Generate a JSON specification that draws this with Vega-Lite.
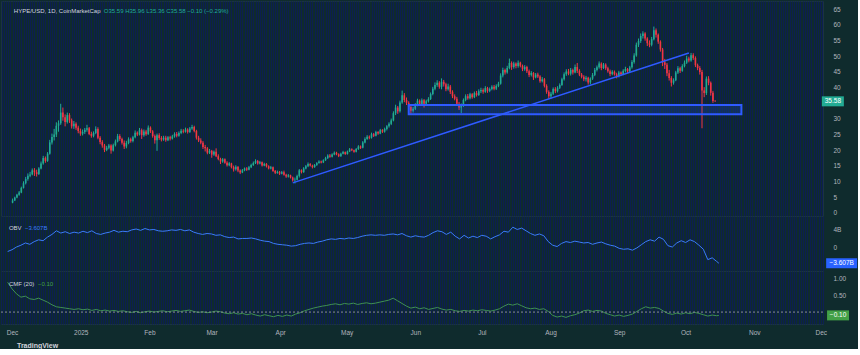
{
"$schema":"https://vega.github.io/schema/vega-lite/v6.json",
"background":"#0f2b2d",
"padding":0,
"spacing":0,
"bounds":"flush",
"title":{"text":"TradingView","orient":"bottom","anchor":"start","fontSize":7,"fontWeight":"bold","color":"#d1d4dc","dx":17,"offset":6,"font":"Liberation Sans"},
"config":{"view":{"stroke":"#1b3440","strokeWidth":1},"axis":{"labelColor":"#b2b5be","labelFont":"Liberation Sans","labelFontSize":6.5,"ticks":false,"domain":false,"grid":false,"labelOverlap":false}},
"datasets":{
"ohlc":[
{"d":"2024-11-29","o":3.3,"h":4.6,"l":3.1,"c":4.0},
{"d":"2024-11-30","o":4.0,"h":5.2,"l":3.8,"c":4.9},
{"d":"2024-12-01","o":4.9,"h":6.1,"l":4.7,"c":5.8},
{"d":"2024-12-02","o":5.8,"h":7.0,"l":5.5,"c":6.5},
{"d":"2024-12-03","o":6.5,"h":8.4,"l":6.3,"c":8.0},
{"d":"2024-12-04","o":8.0,"h":10.1,"l":7.8,"c":9.5},
{"d":"2024-12-05","o":9.5,"h":11.5,"l":9.1,"c":10.8},
{"d":"2024-12-06","o":10.8,"h":12.6,"l":10.3,"c":11.9},
{"d":"2024-12-07","o":11.9,"h":13.1,"l":11.4,"c":12.3},
{"d":"2024-12-08","o":12.3,"h":14.2,"l":12.0,"c":13.6},
{"d":"2024-12-09","o":13.6,"h":14.3,"l":11.8,"c":13.0},
{"d":"2024-12-10","o":13.0,"h":13.8,"l":11.6,"c":12.4},
{"d":"2024-12-11","o":12.4,"h":14.6,"l":12.1,"c":14.2},
{"d":"2024-12-12","o":14.2,"h":16.4,"l":13.9,"c":15.8},
{"d":"2024-12-13","o":15.8,"h":18.2,"l":15.4,"c":17.5},
{"d":"2024-12-14","o":17.5,"h":18.0,"l":16.0,"c":16.6},
{"d":"2024-12-15","o":16.6,"h":19.4,"l":16.3,"c":18.9},
{"d":"2024-12-16","o":18.9,"h":23.3,"l":18.6,"c":22.5},
{"d":"2024-12-17","o":22.5,"h":25.3,"l":21.8,"c":24.2},
{"d":"2024-12-18","o":24.2,"h":26.8,"l":23.1,"c":25.0},
{"d":"2024-12-19","o":25.0,"h":28.9,"l":24.2,"c":27.8},
{"d":"2024-12-20","o":27.8,"h":29.5,"l":25.9,"c":28.6},
{"d":"2024-12-21","o":28.6,"h":34.8,"l":28.1,"c":32.0},
{"d":"2024-12-22","o":32.0,"h":33.6,"l":29.4,"c":30.5},
{"d":"2024-12-23","o":30.5,"h":31.4,"l":27.6,"c":29.0},
{"d":"2024-12-24","o":29.0,"h":32.0,"l":28.5,"c":31.2},
{"d":"2024-12-25","o":31.2,"h":31.8,"l":28.7,"c":29.5},
{"d":"2024-12-26","o":29.5,"h":30.1,"l":26.9,"c":27.6},
{"d":"2024-12-27","o":27.6,"h":29.3,"l":26.8,"c":28.4},
{"d":"2024-12-28","o":28.4,"h":28.9,"l":26.5,"c":27.2},
{"d":"2024-12-29","o":27.2,"h":27.8,"l":25.4,"c":26.1},
{"d":"2024-12-30","o":26.1,"h":26.9,"l":24.6,"c":25.3},
{"d":"2024-12-31","o":25.3,"h":26.6,"l":24.7,"c":25.8},
{"d":"2025-01-01","o":25.8,"h":27.1,"l":25.2,"c":26.5},
{"d":"2025-01-02","o":26.5,"h":28.1,"l":25.9,"c":27.0},
{"d":"2025-01-03","o":27.0,"h":27.4,"l":24.8,"c":25.2},
{"d":"2025-01-04","o":25.2,"h":25.9,"l":24.0,"c":24.6},
{"d":"2025-01-05","o":24.6,"h":26.0,"l":24.1,"c":25.5},
{"d":"2025-01-06","o":25.5,"h":27.6,"l":25.1,"c":26.8},
{"d":"2025-01-07","o":26.8,"h":27.3,"l":23.5,"c":24.0},
{"d":"2025-01-08","o":24.0,"h":24.5,"l":21.9,"c":22.6},
{"d":"2025-01-09","o":22.6,"h":23.2,"l":20.8,"c":21.5},
{"d":"2025-01-10","o":21.5,"h":22.0,"l":19.4,"c":20.1},
{"d":"2025-01-11","o":20.1,"h":21.4,"l":19.7,"c":20.8},
{"d":"2025-01-12","o":20.8,"h":22.0,"l":20.3,"c":21.5},
{"d":"2025-01-13","o":21.5,"h":21.9,"l":18.9,"c":19.9},
{"d":"2025-01-14","o":19.9,"h":22.1,"l":19.6,"c":21.6},
{"d":"2025-01-15","o":21.6,"h":23.4,"l":21.2,"c":22.8},
{"d":"2025-01-16","o":22.8,"h":25.2,"l":22.5,"c":24.5},
{"d":"2025-01-17","o":24.5,"h":25.1,"l":23.0,"c":23.6},
{"d":"2025-01-18","o":23.6,"h":24.0,"l":21.8,"c":22.4},
{"d":"2025-01-19","o":22.4,"h":23.1,"l":20.4,"c":21.2},
{"d":"2025-01-20","o":21.2,"h":23.0,"l":20.6,"c":22.3},
{"d":"2025-01-21","o":22.3,"h":24.1,"l":21.9,"c":23.5},
{"d":"2025-01-22","o":23.5,"h":24.0,"l":22.4,"c":22.9},
{"d":"2025-01-23","o":22.9,"h":24.6,"l":22.5,"c":24.1},
{"d":"2025-01-24","o":24.1,"h":26.3,"l":23.8,"c":25.6},
{"d":"2025-01-25","o":25.6,"h":26.0,"l":24.5,"c":25.0},
{"d":"2025-01-26","o":25.0,"h":27.1,"l":24.7,"c":26.4},
{"d":"2025-01-27","o":26.4,"h":26.9,"l":23.6,"c":24.8},
{"d":"2025-01-28","o":24.8,"h":26.6,"l":24.3,"c":26.0},
{"d":"2025-01-29","o":26.0,"h":26.5,"l":24.6,"c":25.1},
{"d":"2025-01-30","o":25.1,"h":27.9,"l":24.9,"c":27.2},
{"d":"2025-01-31","o":27.2,"h":27.6,"l":25.5,"c":26.0},
{"d":"2025-02-01","o":26.0,"h":26.4,"l":24.0,"c":24.5},
{"d":"2025-02-02","o":24.5,"h":25.0,"l":22.1,"c":23.2},
{"d":"2025-02-03","o":23.2,"h":25.3,"l":19.8,"c":24.8},
{"d":"2025-02-04","o":24.8,"h":25.4,"l":23.3,"c":23.9},
{"d":"2025-02-05","o":23.9,"h":24.5,"l":22.8,"c":23.4},
{"d":"2025-02-06","o":23.4,"h":24.6,"l":23.0,"c":24.0},
{"d":"2025-02-07","o":24.0,"h":24.6,"l":22.7,"c":23.2},
{"d":"2025-02-08","o":23.2,"h":24.5,"l":22.9,"c":24.1},
{"d":"2025-02-09","o":24.1,"h":24.6,"l":23.1,"c":23.7},
{"d":"2025-02-10","o":23.7,"h":24.9,"l":23.4,"c":24.4},
{"d":"2025-02-11","o":24.4,"h":25.7,"l":24.0,"c":25.2},
{"d":"2025-02-12","o":25.2,"h":25.8,"l":24.1,"c":24.6},
{"d":"2025-02-13","o":24.6,"h":26.0,"l":24.3,"c":25.5},
{"d":"2025-02-14","o":25.5,"h":26.8,"l":25.1,"c":26.2},
{"d":"2025-02-15","o":26.2,"h":26.7,"l":25.4,"c":25.9},
{"d":"2025-02-16","o":25.9,"h":27.2,"l":25.6,"c":26.6},
{"d":"2025-02-17","o":26.6,"h":27.0,"l":25.3,"c":25.8},
{"d":"2025-02-18","o":25.8,"h":27.4,"l":25.5,"c":26.9},
{"d":"2025-02-19","o":26.9,"h":28.1,"l":26.5,"c":27.4},
{"d":"2025-02-20","o":27.4,"h":27.8,"l":25.7,"c":26.1},
{"d":"2025-02-21","o":26.1,"h":26.5,"l":23.4,"c":24.0},
{"d":"2025-02-22","o":24.0,"h":24.6,"l":22.6,"c":23.1},
{"d":"2025-02-23","o":23.1,"h":23.8,"l":21.9,"c":22.4},
{"d":"2025-02-24","o":22.4,"h":22.9,"l":20.4,"c":21.0},
{"d":"2025-02-25","o":21.0,"h":21.7,"l":19.6,"c":20.6},
{"d":"2025-02-26","o":20.6,"h":21.0,"l":18.7,"c":19.2},
{"d":"2025-02-27","o":19.2,"h":20.4,"l":18.8,"c":19.8},
{"d":"2025-02-28","o":19.8,"h":20.1,"l":17.6,"c":18.6},
{"d":"2025-03-01","o":18.6,"h":19.9,"l":18.2,"c":19.5},
{"d":"2025-03-02","o":19.5,"h":20.6,"l":17.8,"c":18.1},
{"d":"2025-03-03","o":18.1,"h":18.7,"l":16.8,"c":17.2},
{"d":"2025-03-04","o":17.2,"h":17.6,"l":15.6,"c":16.4},
{"d":"2025-03-05","o":16.4,"h":17.5,"l":16.0,"c":17.1},
{"d":"2025-03-06","o":17.1,"h":17.4,"l":15.7,"c":16.0},
{"d":"2025-03-07","o":16.0,"h":16.5,"l":14.8,"c":15.2},
{"d":"2025-03-08","o":15.2,"h":16.2,"l":14.9,"c":15.8},
{"d":"2025-03-09","o":15.8,"h":16.0,"l":14.2,"c":14.6},
{"d":"2025-03-10","o":14.6,"h":15.1,"l":13.2,"c":13.9},
{"d":"2025-03-11","o":13.9,"h":15.2,"l":13.5,"c":14.7},
{"d":"2025-03-12","o":14.7,"h":14.9,"l":13.0,"c":13.5},
{"d":"2025-03-13","o":13.5,"h":13.9,"l":12.4,"c":12.9},
{"d":"2025-03-14","o":12.9,"h":14.0,"l":12.7,"c":13.6},
{"d":"2025-03-15","o":13.6,"h":14.5,"l":13.3,"c":14.2},
{"d":"2025-03-16","o":14.2,"h":14.6,"l":13.4,"c":13.8},
{"d":"2025-03-17","o":13.8,"h":15.0,"l":13.6,"c":14.6},
{"d":"2025-03-18","o":14.6,"h":15.7,"l":14.3,"c":15.3},
{"d":"2025-03-19","o":15.3,"h":16.4,"l":15.0,"c":15.9},
{"d":"2025-03-20","o":15.9,"h":17.1,"l":15.6,"c":16.6},
{"d":"2025-03-21","o":16.6,"h":16.9,"l":15.4,"c":15.8},
{"d":"2025-03-22","o":15.8,"h":16.6,"l":15.5,"c":16.2},
{"d":"2025-03-23","o":16.2,"h":16.4,"l":14.8,"c":15.1},
{"d":"2025-03-24","o":15.1,"h":16.0,"l":14.9,"c":15.6},
{"d":"2025-03-25","o":15.6,"h":15.9,"l":14.5,"c":14.9},
{"d":"2025-03-26","o":14.9,"h":15.2,"l":13.9,"c":14.2},
{"d":"2025-03-27","o":14.2,"h":15.0,"l":13.9,"c":14.6},
{"d":"2025-03-28","o":14.6,"h":14.8,"l":13.1,"c":13.4},
{"d":"2025-03-29","o":13.4,"h":13.7,"l":12.4,"c":12.8},
{"d":"2025-03-30","o":12.8,"h":13.5,"l":12.5,"c":13.1},
{"d":"2025-03-31","o":13.1,"h":13.4,"l":12.1,"c":12.5},
{"d":"2025-04-01","o":12.5,"h":13.4,"l":12.3,"c":13.0},
{"d":"2025-04-02","o":13.0,"h":13.5,"l":11.9,"c":12.2},
{"d":"2025-04-03","o":12.2,"h":12.5,"l":11.2,"c":11.6},
{"d":"2025-04-04","o":11.6,"h":12.4,"l":11.3,"c":12.0},
{"d":"2025-04-05","o":12.0,"h":12.2,"l":11.0,"c":11.3},
{"d":"2025-04-06","o":11.3,"h":11.6,"l":10.0,"c":10.4},
{"d":"2025-04-07","o":10.4,"h":11.3,"l":9.4,"c":10.6},
{"d":"2025-04-08","o":10.6,"h":12.2,"l":10.4,"c":11.8},
{"d":"2025-04-09","o":11.8,"h":14.0,"l":11.3,"c":13.6},
{"d":"2025-04-10","o":13.6,"h":13.9,"l":12.6,"c":13.0},
{"d":"2025-04-11","o":13.0,"h":14.6,"l":12.8,"c":14.2},
{"d":"2025-04-12","o":14.2,"h":15.3,"l":13.9,"c":14.9},
{"d":"2025-04-13","o":14.9,"h":16.1,"l":14.6,"c":15.6},
{"d":"2025-04-14","o":15.6,"h":15.9,"l":14.8,"c":15.1},
{"d":"2025-04-15","o":15.1,"h":15.4,"l":14.2,"c":14.6},
{"d":"2025-04-16","o":14.6,"h":15.6,"l":14.4,"c":15.3},
{"d":"2025-04-17","o":15.3,"h":16.2,"l":15.0,"c":15.9},
{"d":"2025-04-18","o":15.9,"h":16.8,"l":15.7,"c":16.4},
{"d":"2025-04-19","o":16.4,"h":16.7,"l":15.8,"c":16.1},
{"d":"2025-04-20","o":16.1,"h":17.1,"l":15.9,"c":16.8},
{"d":"2025-04-21","o":16.8,"h":17.9,"l":16.6,"c":17.5},
{"d":"2025-04-22","o":17.5,"h":18.7,"l":17.2,"c":18.3},
{"d":"2025-04-23","o":18.3,"h":18.8,"l":17.6,"c":17.9},
{"d":"2025-04-24","o":17.9,"h":19.0,"l":17.7,"c":18.6},
{"d":"2025-04-25","o":18.6,"h":19.6,"l":18.4,"c":19.2},
{"d":"2025-04-26","o":19.2,"h":19.5,"l":18.4,"c":18.7},
{"d":"2025-04-27","o":18.7,"h":19.0,"l":17.8,"c":18.1},
{"d":"2025-04-28","o":18.1,"h":19.2,"l":17.9,"c":18.9},
{"d":"2025-04-29","o":18.9,"h":19.8,"l":18.7,"c":19.4},
{"d":"2025-04-30","o":19.4,"h":19.6,"l":18.5,"c":18.8},
{"d":"2025-05-01","o":18.8,"h":19.9,"l":18.6,"c":19.6},
{"d":"2025-05-02","o":19.6,"h":20.7,"l":19.4,"c":20.3},
{"d":"2025-05-03","o":20.3,"h":20.6,"l":19.7,"c":20.0},
{"d":"2025-05-04","o":20.0,"h":20.2,"l":19.2,"c":19.5},
{"d":"2025-05-05","o":19.5,"h":20.7,"l":19.3,"c":20.4},
{"d":"2025-05-06","o":20.4,"h":21.6,"l":20.1,"c":21.2},
{"d":"2025-05-07","o":21.2,"h":21.5,"l":20.4,"c":20.8},
{"d":"2025-05-08","o":20.8,"h":22.9,"l":20.6,"c":22.5},
{"d":"2025-05-09","o":22.5,"h":24.1,"l":22.2,"c":23.6},
{"d":"2025-05-10","o":23.6,"h":24.8,"l":23.3,"c":24.3},
{"d":"2025-05-11","o":24.3,"h":24.7,"l":23.5,"c":24.0},
{"d":"2025-05-12","o":24.0,"h":25.6,"l":23.7,"c":25.1},
{"d":"2025-05-13","o":25.1,"h":25.5,"l":24.2,"c":24.6},
{"d":"2025-05-14","o":24.6,"h":26.2,"l":24.4,"c":25.8},
{"d":"2025-05-15","o":25.8,"h":26.1,"l":24.9,"c":25.3},
{"d":"2025-05-16","o":25.3,"h":26.8,"l":25.1,"c":26.4},
{"d":"2025-05-17","o":26.4,"h":26.7,"l":25.5,"c":25.9},
{"d":"2025-05-18","o":25.9,"h":27.2,"l":25.6,"c":26.8},
{"d":"2025-05-19","o":26.8,"h":28.0,"l":26.3,"c":27.6},
{"d":"2025-05-20","o":27.6,"h":28.9,"l":27.2,"c":28.4},
{"d":"2025-05-21","o":28.4,"h":30.1,"l":28.0,"c":29.5},
{"d":"2025-05-22","o":29.5,"h":32.4,"l":29.2,"c":31.8},
{"d":"2025-05-23","o":31.8,"h":34.5,"l":31.2,"c":33.6},
{"d":"2025-05-24","o":33.6,"h":34.1,"l":31.6,"c":32.4},
{"d":"2025-05-25","o":32.4,"h":35.8,"l":32.0,"c":35.2},
{"d":"2025-05-26","o":35.2,"h":39.0,"l":34.8,"c":37.5},
{"d":"2025-05-27","o":37.5,"h":38.2,"l":35.3,"c":36.0},
{"d":"2025-05-28","o":36.0,"h":36.8,"l":34.4,"c":35.1},
{"d":"2025-05-29","o":35.1,"h":35.6,"l":33.0,"c":33.8},
{"d":"2025-05-30","o":33.8,"h":34.2,"l":31.6,"c":32.6},
{"d":"2025-05-31","o":32.6,"h":33.8,"l":32.0,"c":33.2},
{"d":"2025-06-01","o":33.2,"h":35.0,"l":32.8,"c":34.5},
{"d":"2025-06-02","o":34.5,"h":36.4,"l":34.0,"c":35.8},
{"d":"2025-06-03","o":35.8,"h":36.2,"l":34.1,"c":34.6},
{"d":"2025-06-04","o":34.6,"h":36.5,"l":34.2,"c":35.9},
{"d":"2025-06-05","o":35.9,"h":36.3,"l":33.6,"c":34.8},
{"d":"2025-06-06","o":34.8,"h":36.1,"l":34.3,"c":35.6},
{"d":"2025-06-07","o":35.6,"h":36.9,"l":35.2,"c":36.3},
{"d":"2025-06-08","o":36.3,"h":38.4,"l":36.0,"c":37.9},
{"d":"2025-06-09","o":37.9,"h":40.2,"l":37.5,"c":39.6},
{"d":"2025-06-10","o":39.6,"h":41.6,"l":39.1,"c":40.8},
{"d":"2025-06-11","o":40.8,"h":42.3,"l":40.2,"c":41.5},
{"d":"2025-06-12","o":41.5,"h":42.0,"l":39.6,"c":40.2},
{"d":"2025-06-13","o":40.2,"h":42.9,"l":39.4,"c":41.8},
{"d":"2025-06-14","o":41.8,"h":42.4,"l":40.3,"c":41.0},
{"d":"2025-06-15","o":41.0,"h":41.5,"l":38.8,"c":39.4},
{"d":"2025-06-16","o":39.4,"h":41.2,"l":39.0,"c":40.3},
{"d":"2025-06-17","o":40.3,"h":40.8,"l":37.9,"c":38.6},
{"d":"2025-06-18","o":38.6,"h":39.1,"l":36.6,"c":37.2},
{"d":"2025-06-19","o":37.2,"h":37.8,"l":35.9,"c":36.4},
{"d":"2025-06-20","o":36.4,"h":37.0,"l":34.2,"c":34.8},
{"d":"2025-06-21","o":34.8,"h":35.4,"l":32.8,"c":33.6},
{"d":"2025-06-22","o":33.6,"h":34.9,"l":31.8,"c":34.2},
{"d":"2025-06-23","o":34.2,"h":36.5,"l":33.8,"c":36.0},
{"d":"2025-06-24","o":36.0,"h":37.8,"l":35.6,"c":37.2},
{"d":"2025-06-25","o":37.2,"h":37.9,"l":36.1,"c":36.6},
{"d":"2025-06-26","o":36.6,"h":38.3,"l":36.2,"c":37.8},
{"d":"2025-06-27","o":37.8,"h":38.2,"l":36.4,"c":36.9},
{"d":"2025-06-28","o":36.9,"h":38.7,"l":36.6,"c":38.2},
{"d":"2025-06-29","o":38.2,"h":38.9,"l":37.1,"c":37.6},
{"d":"2025-06-30","o":37.6,"h":39.4,"l":37.3,"c":38.8},
{"d":"2025-07-01","o":38.8,"h":39.9,"l":38.2,"c":39.2},
{"d":"2025-07-02","o":39.2,"h":39.7,"l":38.0,"c":38.6},
{"d":"2025-07-03","o":38.6,"h":40.4,"l":38.3,"c":39.8},
{"d":"2025-07-04","o":39.8,"h":40.2,"l":38.3,"c":38.9},
{"d":"2025-07-05","o":38.9,"h":40.0,"l":38.5,"c":39.5},
{"d":"2025-07-06","o":39.5,"h":40.7,"l":39.1,"c":40.2},
{"d":"2025-07-07","o":40.2,"h":40.8,"l":39.1,"c":39.6},
{"d":"2025-07-08","o":39.6,"h":41.0,"l":39.2,"c":40.5},
{"d":"2025-07-09","o":40.5,"h":41.8,"l":40.1,"c":41.2},
{"d":"2025-07-10","o":41.2,"h":44.5,"l":40.9,"c":43.8},
{"d":"2025-07-11","o":43.8,"h":46.3,"l":43.2,"c":45.6},
{"d":"2025-07-12","o":45.6,"h":46.0,"l":44.1,"c":44.8},
{"d":"2025-07-13","o":44.8,"h":46.9,"l":44.4,"c":46.2},
{"d":"2025-07-14","o":46.2,"h":49.2,"l":45.8,"c":47.8},
{"d":"2025-07-15","o":47.8,"h":48.3,"l":45.6,"c":46.5},
{"d":"2025-07-16","o":46.5,"h":48.2,"l":46.0,"c":47.6},
{"d":"2025-07-17","o":47.6,"h":48.0,"l":46.1,"c":46.8},
{"d":"2025-07-18","o":46.8,"h":48.6,"l":46.3,"c":47.9},
{"d":"2025-07-19","o":47.9,"h":48.2,"l":46.4,"c":46.9},
{"d":"2025-07-20","o":46.9,"h":47.3,"l":45.2,"c":45.8},
{"d":"2025-07-21","o":45.8,"h":47.1,"l":45.3,"c":46.5},
{"d":"2025-07-22","o":46.5,"h":46.9,"l":44.6,"c":45.2},
{"d":"2025-07-23","o":45.2,"h":45.7,"l":43.3,"c":44.0},
{"d":"2025-07-24","o":44.0,"h":45.2,"l":43.5,"c":44.6},
{"d":"2025-07-25","o":44.6,"h":44.9,"l":42.4,"c":43.2},
{"d":"2025-07-26","o":43.2,"h":44.6,"l":42.9,"c":44.1},
{"d":"2025-07-27","o":44.1,"h":44.7,"l":43.0,"c":43.5},
{"d":"2025-07-28","o":43.5,"h":43.9,"l":41.5,"c":42.0},
{"d":"2025-07-29","o":42.0,"h":43.3,"l":41.6,"c":42.6},
{"d":"2025-07-30","o":42.6,"h":43.0,"l":40.0,"c":40.5},
{"d":"2025-07-31","o":40.5,"h":41.0,"l":38.0,"c":38.6},
{"d":"2025-08-01","o":38.6,"h":39.1,"l":36.4,"c":37.2},
{"d":"2025-08-02","o":37.2,"h":38.6,"l":36.5,"c":38.0},
{"d":"2025-08-03","o":38.0,"h":40.0,"l":37.6,"c":39.5},
{"d":"2025-08-04","o":39.5,"h":40.1,"l":38.2,"c":38.8},
{"d":"2025-08-05","o":38.8,"h":40.4,"l":38.4,"c":39.9},
{"d":"2025-08-06","o":39.9,"h":41.3,"l":39.5,"c":40.8},
{"d":"2025-08-07","o":40.8,"h":43.1,"l":40.5,"c":42.6},
{"d":"2025-08-08","o":42.6,"h":44.8,"l":42.2,"c":44.2},
{"d":"2025-08-09","o":44.2,"h":45.8,"l":43.7,"c":45.1},
{"d":"2025-08-10","o":45.1,"h":45.9,"l":43.9,"c":44.4},
{"d":"2025-08-11","o":44.4,"h":46.2,"l":43.8,"c":45.6},
{"d":"2025-08-12","o":45.6,"h":46.0,"l":44.1,"c":44.8},
{"d":"2025-08-13","o":44.8,"h":47.3,"l":44.5,"c":46.5},
{"d":"2025-08-14","o":46.5,"h":47.8,"l":44.6,"c":45.3},
{"d":"2025-08-15","o":45.3,"h":45.8,"l":43.6,"c":44.1},
{"d":"2025-08-16","o":44.1,"h":44.6,"l":42.9,"c":43.4},
{"d":"2025-08-17","o":43.4,"h":43.9,"l":42.0,"c":42.6},
{"d":"2025-08-18","o":42.6,"h":43.7,"l":41.9,"c":43.1},
{"d":"2025-08-19","o":43.1,"h":43.4,"l":40.9,"c":41.6},
{"d":"2025-08-20","o":41.6,"h":43.2,"l":41.0,"c":42.8},
{"d":"2025-08-21","o":42.8,"h":44.6,"l":42.4,"c":44.0},
{"d":"2025-08-22","o":44.0,"h":46.2,"l":43.6,"c":45.6},
{"d":"2025-08-23","o":45.6,"h":47.0,"l":45.1,"c":46.4},
{"d":"2025-08-24","o":46.4,"h":48.3,"l":46.0,"c":47.6},
{"d":"2025-08-25","o":47.6,"h":48.0,"l":45.5,"c":46.2},
{"d":"2025-08-26","o":46.2,"h":47.8,"l":45.9,"c":47.3},
{"d":"2025-08-27","o":47.3,"h":47.7,"l":45.6,"c":46.1},
{"d":"2025-08-28","o":46.1,"h":46.6,"l":44.7,"c":45.2},
{"d":"2025-08-29","o":45.2,"h":45.7,"l":43.6,"c":44.3},
{"d":"2025-08-30","o":44.3,"h":45.5,"l":43.9,"c":45.0},
{"d":"2025-08-31","o":45.0,"h":45.4,"l":43.8,"c":44.2},
{"d":"2025-09-01","o":44.2,"h":44.7,"l":42.9,"c":43.6},
{"d":"2025-09-02","o":43.6,"h":45.3,"l":43.2,"c":44.8},
{"d":"2025-09-03","o":44.8,"h":45.1,"l":43.7,"c":44.2},
{"d":"2025-09-04","o":44.2,"h":45.8,"l":43.9,"c":45.3},
{"d":"2025-09-05","o":45.3,"h":46.6,"l":44.8,"c":45.9},
{"d":"2025-09-06","o":45.9,"h":46.2,"l":44.6,"c":45.1},
{"d":"2025-09-07","o":45.1,"h":46.9,"l":44.9,"c":46.4},
{"d":"2025-09-08","o":46.4,"h":48.7,"l":46.0,"c":48.1},
{"d":"2025-09-09","o":48.1,"h":50.9,"l":47.6,"c":50.2},
{"d":"2025-09-10","o":50.2,"h":54.3,"l":49.8,"c":53.6},
{"d":"2025-09-11","o":53.6,"h":55.6,"l":52.9,"c":54.8},
{"d":"2025-09-12","o":54.8,"h":57.2,"l":54.2,"c":56.4},
{"d":"2025-09-13","o":56.4,"h":57.9,"l":55.6,"c":57.2},
{"d":"2025-09-14","o":57.2,"h":57.6,"l":54.9,"c":55.6},
{"d":"2025-09-15","o":55.6,"h":56.0,"l":53.2,"c":54.1},
{"d":"2025-09-16","o":54.1,"h":55.0,"l":52.8,"c":53.6},
{"d":"2025-09-17","o":53.6,"h":56.1,"l":53.1,"c":55.4},
{"d":"2025-09-18","o":55.4,"h":59.4,"l":55.0,"c":58.2},
{"d":"2025-09-19","o":58.2,"h":58.8,"l":55.9,"c":56.8},
{"d":"2025-09-20","o":56.8,"h":57.2,"l":53.9,"c":54.6},
{"d":"2025-09-21","o":54.6,"h":55.0,"l":51.4,"c":52.1},
{"d":"2025-09-22","o":52.1,"h":52.6,"l":46.8,"c":48.0},
{"d":"2025-09-23","o":48.0,"h":49.1,"l":45.9,"c":47.2},
{"d":"2025-09-24","o":47.2,"h":47.8,"l":43.6,"c":44.5},
{"d":"2025-09-25","o":44.5,"h":45.6,"l":42.2,"c":43.0},
{"d":"2025-09-26","o":43.0,"h":43.6,"l":40.3,"c":41.5},
{"d":"2025-09-27","o":41.5,"h":42.9,"l":40.9,"c":42.3},
{"d":"2025-09-28","o":42.3,"h":45.3,"l":42.0,"c":44.8},
{"d":"2025-09-29","o":44.8,"h":46.8,"l":44.3,"c":46.1},
{"d":"2025-09-30","o":46.1,"h":46.6,"l":44.6,"c":45.3},
{"d":"2025-10-01","o":45.3,"h":47.4,"l":45.0,"c":46.8},
{"d":"2025-10-02","o":46.8,"h":48.6,"l":46.4,"c":47.9},
{"d":"2025-10-03","o":47.9,"h":50.1,"l":47.5,"c":49.2},
{"d":"2025-10-04","o":49.2,"h":49.8,"l":48.0,"c":48.6},
{"d":"2025-10-05","o":48.6,"h":51.0,"l":48.2,"c":50.3},
{"d":"2025-10-06","o":50.3,"h":50.9,"l":48.8,"c":49.4},
{"d":"2025-10-07","o":49.4,"h":49.9,"l":46.5,"c":47.1},
{"d":"2025-10-08","o":47.1,"h":47.6,"l":45.5,"c":46.2},
{"d":"2025-10-09","o":46.2,"h":46.8,"l":44.1,"c":44.9},
{"d":"2025-10-10","o":44.9,"h":45.6,"l":27.0,"c":39.0},
{"d":"2025-10-11","o":39.0,"h":40.1,"l":36.9,"c":38.2},
{"d":"2025-10-12","o":38.2,"h":43.5,"l":37.6,"c":42.8},
{"d":"2025-10-13","o":42.8,"h":43.6,"l":40.7,"c":41.5},
{"d":"2025-10-14","o":41.5,"h":41.9,"l":37.4,"c":38.3},
{"d":"2025-10-15","o":38.3,"h":38.9,"l":35.1,"c":35.68},
{"d":"2025-10-16","o":35.59,"h":35.96,"l":35.36,"c":35.58}
],
"ind":[
{"d":"2024-11-29","v":-1.0,"m":0.90},{"d":"2024-12-01","v":-0.6,"m":0.70},{"d":"2024-12-03","v":0.0,"m":0.55},{"d":"2024-12-05","v":0.4,"m":0.45},{"d":"2024-12-07","v":0.9,"m":0.48},{"d":"2024-12-09","v":0.6,"m":0.40},{"d":"2024-12-11","v":1.2,"m":0.38},{"d":"2024-12-13","v":1.6,"m":0.42},{"d":"2024-12-15","v":1.4,"m":0.36},{"d":"2024-12-17","v":2.2,"m":0.30},{"d":"2024-12-19","v":2.8,"m":0.22},{"d":"2024-12-21","v":3.6,"m":0.16},{"d":"2024-12-23","v":3.1,"m":0.14},{"d":"2024-12-25","v":3.4,"m":0.12},{"d":"2024-12-27","v":3.0,"m":0.10},{"d":"2024-12-29","v":3.3,"m":0.08},{"d":"2024-12-31","v":3.1,"m":0.10},
{"d":"2025-01-02","v":3.5,"m":0.07},{"d":"2025-01-04","v":3.2,"m":0.09},{"d":"2025-01-06","v":3.6,"m":0.05},{"d":"2025-01-08","v":3.0,"m":0.08},{"d":"2025-01-10","v":2.8,"m":0.04},{"d":"2025-01-12","v":3.1,"m":0.06},{"d":"2025-01-14","v":3.3,"m":0.03},{"d":"2025-01-16","v":3.7,"m":0.05},{"d":"2025-01-18","v":3.3,"m":0.02},{"d":"2025-01-20","v":3.5,"m":0.04},{"d":"2025-01-22","v":3.4,"m":0.01},{"d":"2025-01-24","v":3.8,"m":-0.01},{"d":"2025-01-26","v":4.0,"m":0.02},{"d":"2025-01-28","v":3.7,"m":-0.02},{"d":"2025-01-30","v":4.1,"m":0.01},
{"d":"2025-02-01","v":3.8,"m":0.03},{"d":"2025-02-03","v":3.9,"m":0.00},{"d":"2025-02-05","v":3.6,"m":0.02},{"d":"2025-02-07","v":3.5,"m":0.04},{"d":"2025-02-09","v":3.6,"m":0.01},{"d":"2025-02-11","v":3.8,"m":0.03},{"d":"2025-02-13","v":3.7,"m":0.05},{"d":"2025-02-15","v":3.9,"m":0.02},{"d":"2025-02-17","v":3.6,"m":0.04},{"d":"2025-02-19","v":3.8,"m":0.06},{"d":"2025-02-21","v":3.3,"m":0.02},{"d":"2025-02-23","v":3.0,"m":-0.01},{"d":"2025-02-25","v":2.8,"m":0.01},{"d":"2025-02-27","v":3.0,"m":-0.02},
{"d":"2025-03-01","v":2.9,"m":0.00},{"d":"2025-03-03","v":2.6,"m":0.03},{"d":"2025-03-05","v":2.7,"m":0.01},{"d":"2025-03-07","v":2.3,"m":-0.03},{"d":"2025-03-09","v":2.1,"m":-0.05},{"d":"2025-03-11","v":2.2,"m":-0.02},{"d":"2025-03-13","v":1.8,"m":-0.06},{"d":"2025-03-15","v":1.9,"m":-0.04},{"d":"2025-03-17","v":1.9,"m":-0.08},{"d":"2025-03-19","v":2.0,"m":-0.05},{"d":"2025-03-21","v":1.8,"m":-0.09},{"d":"2025-03-23","v":1.5,"m":-0.12},{"d":"2025-03-25","v":1.3,"m":-0.08},{"d":"2025-03-27","v":1.2,"m":-0.11},{"d":"2025-03-29","v":0.8,"m":-0.14},{"d":"2025-03-31","v":0.6,"m":-0.10},
{"d":"2025-04-02","v":0.5,"m":-0.13},{"d":"2025-04-04","v":0.4,"m":-0.09},{"d":"2025-04-06","v":0.2,"m":-0.12},{"d":"2025-04-08","v":0.3,"m":-0.06},{"d":"2025-04-10","v":0.6,"m":-0.02},{"d":"2025-04-12","v":0.8,"m":0.04},{"d":"2025-04-14","v":0.9,"m":0.08},{"d":"2025-04-16","v":0.8,"m":0.12},{"d":"2025-04-18","v":1.1,"m":0.15},{"d":"2025-04-20","v":1.3,"m":0.18},{"d":"2025-04-22","v":1.6,"m":0.20},{"d":"2025-04-24","v":1.8,"m":0.23},{"d":"2025-04-26","v":1.7,"m":0.25},{"d":"2025-04-28","v":1.9,"m":0.22},{"d":"2025-04-30","v":1.8,"m":0.26},
{"d":"2025-05-02","v":2.0,"m":0.24},{"d":"2025-05-04","v":1.9,"m":0.27},{"d":"2025-05-06","v":2.1,"m":0.23},{"d":"2025-05-08","v":2.4,"m":0.26},{"d":"2025-05-10","v":2.6,"m":0.28},{"d":"2025-05-12","v":2.7,"m":0.25},{"d":"2025-05-14","v":2.6,"m":0.27},{"d":"2025-05-16","v":2.7,"m":0.30},{"d":"2025-05-18","v":2.6,"m":0.33},{"d":"2025-05-20","v":2.8,"m":0.36},{"d":"2025-05-22","v":2.9,"m":0.42},{"d":"2025-05-24","v":2.7,"m":0.34},{"d":"2025-05-26","v":3.0,"m":0.26},{"d":"2025-05-28","v":2.5,"m":0.18},{"d":"2025-05-30","v":2.2,"m":0.12},
{"d":"2025-06-01","v":2.5,"m":0.15},{"d":"2025-06-03","v":2.3,"m":0.10},{"d":"2025-06-05","v":2.2,"m":0.13},{"d":"2025-06-07","v":2.6,"m":0.08},{"d":"2025-06-09","v":3.2,"m":0.11},{"d":"2025-06-11","v":3.6,"m":0.14},{"d":"2025-06-13","v":3.4,"m":0.09},{"d":"2025-06-15","v":2.8,"m":0.06},{"d":"2025-06-17","v":3.3,"m":0.08},{"d":"2025-06-19","v":2.4,"m":0.04},{"d":"2025-06-21","v":1.8,"m":0.02},{"d":"2025-06-23","v":2.6,"m":0.05},{"d":"2025-06-25","v":2.0,"m":0.03},{"d":"2025-06-27","v":2.4,"m":0.06},{"d":"2025-06-29","v":2.1,"m":0.04},
{"d":"2025-07-01","v":2.6,"m":0.07},{"d":"2025-07-03","v":2.4,"m":0.05},{"d":"2025-07-05","v":1.8,"m":0.03},{"d":"2025-07-07","v":2.3,"m":0.06},{"d":"2025-07-09","v":2.7,"m":0.10},{"d":"2025-07-11","v":3.5,"m":0.18},{"d":"2025-07-13","v":3.3,"m":0.24},{"d":"2025-07-15","v":4.4,"m":0.21},{"d":"2025-07-17","v":3.9,"m":0.25},{"d":"2025-07-19","v":4.2,"m":0.19},{"d":"2025-07-21","v":3.6,"m":0.13},{"d":"2025-07-23","v":3.0,"m":0.10},{"d":"2025-07-25","v":2.6,"m":0.12},{"d":"2025-07-27","v":2.9,"m":0.08},{"d":"2025-07-29","v":2.5,"m":0.10},{"d":"2025-07-31","v":1.2,"m":0.02},
{"d":"2025-08-02","v":0.4,"m":-0.10},{"d":"2025-08-04","v":0.1,"m":-0.15},{"d":"2025-08-06","v":0.8,"m":-0.12},{"d":"2025-08-08","v":1.2,"m":-0.16},{"d":"2025-08-10","v":1.0,"m":-0.11},{"d":"2025-08-12","v":1.3,"m":-0.08},{"d":"2025-08-14","v":1.1,"m":-0.03},{"d":"2025-08-16","v":0.9,"m":0.04},{"d":"2025-08-18","v":1.0,"m":0.06},{"d":"2025-08-20","v":0.6,"m":0.02},{"d":"2025-08-22","v":0.9,"m":0.05},{"d":"2025-08-24","v":1.1,"m":0.03},{"d":"2025-08-26","v":0.7,"m":-0.04},{"d":"2025-08-28","v":0.4,"m":-0.08},{"d":"2025-08-30","v":0.2,"m":-0.12},
{"d":"2025-09-01","v":-0.3,"m":-0.09},{"d":"2025-09-03","v":-0.5,"m":-0.13},{"d":"2025-09-05","v":-0.4,"m":-0.10},{"d":"2025-09-07","v":-0.7,"m":-0.06},{"d":"2025-09-09","v":-0.2,"m":0.02},{"d":"2025-09-11","v":0.5,"m":0.10},{"d":"2025-09-13","v":1.2,"m":0.16},{"d":"2025-09-15","v":1.6,"m":0.12},{"d":"2025-09-17","v":1.3,"m":0.14},{"d":"2025-09-19","v":2.2,"m":0.11},{"d":"2025-09-21","v":1.7,"m":0.03},{"d":"2025-09-23","v":0.3,"m":-0.04},{"d":"2025-09-25","v":0.0,"m":-0.07},{"d":"2025-09-27","v":0.9,"m":-0.03},{"d":"2025-09-29","v":1.4,"m":-0.06},
{"d":"2025-10-01","v":1.0,"m":-0.02},{"d":"2025-10-03","v":1.6,"m":-0.05},{"d":"2025-10-05","v":1.2,"m":-0.01},{"d":"2025-10-07","v":0.4,"m":-0.04},{"d":"2025-10-09","v":-0.5,"m":-0.08},{"d":"2025-10-11","v":-2.8,"m":-0.12},{"d":"2025-10-13","v":-2.4,"m":-0.09},{"d":"2025-10-15","v":-3.2,"m":-0.11},{"d":"2025-10-16","v":-3.607,"m":-0.10}
],
"trend":[{"d":"2025-04-06","p":9.6},{"d":"2025-10-04","p":51.0}],
"zone":[{"d":"2025-05-29","d2":"2025-10-28","lo":31.5,"hi":34.4}],
"lastp":[{"p":35.58,"t":"35.58"}],
"lastv":[{"v":-3.607,"t":"−3.607B"}],
"lastm":[{"m":-0.10,"t":"−0.10"}]
},
"vconcat":[
{
"width":822,"height":215,
"layer":[
{"data":{"name":"ohlc"},"mark":{"type":"rule","strokeWidth":1},
 "encoding":{
  "x":{"field":"d","type":"temporal","title":null,"scale":{"type":"utc","domain":[{"year":2024,"month":11,"date":26,"utc":true},{"year":2025,"month":12,"date":2,"utc":true}]},
       "axis":{"orient":"bottom","labels":false,"grid":true,"gridColor":"#0c1c58","gridOpacity":0.85,"tickCount":{"interval":"day","step":1}}},
  "y":{"field":"l","type":"quantitative","title":null,"scale":{"domain":[-0.96,67.55],"nice":false,"zero":false},
       "axis":{"orient":"right","values":[0,5,10,15,20,25,30,40,45,50,55,60,65],"labelPadding":10,"labelAlign":"left","labelOverlap":false,"tickCount":14}},
  "y2":{"field":"h"},
  "color":{"condition":{"test":"datum.c >= datum.o","value":"#22ab94"},"value":"#f23645"}}},
{"data":{"name":"ohlc"},"mark":{"type":"bar","size":1.6},
 "encoding":{
  "x":{"field":"d","type":"temporal","title":null,"scale":{"type":"utc"},
       "axis":{"orient":"bottom","labels":false,"grid":true,"gridColor":"#0c1c58","gridOpacity":0.85,"tickCount":{"interval":"day","step":1}}},
  "y":{"field":"o","type":"quantitative","title":null,
       "axis":{"orient":"right","values":[0,5,10,15,20,25,30,40,45,50,55,60,65],"labelPadding":10,"labelAlign":"left","labelOverlap":false,"tickCount":14}},
  "y2":{"field":"c"},
  "color":{"condition":{"test":"datum.c >= datum.o","value":"#22ab94"},"value":"#f23645"}}},
{"data":{"name":"zone"},"mark":{"type":"rect","fill":"#2962ff","fillOpacity":0.18,"stroke":"#2f5bff","strokeWidth":2},
 "encoding":{
  "x":{"field":"d","type":"temporal","title":null,"scale":{"type":"utc"},
       "axis":{"orient":"bottom","labels":false,"grid":true,"gridColor":"#0c1c58","gridOpacity":0.85,"tickCount":{"interval":"day","step":1}}},
  "x2":{"field":"d2"},
  "y":{"field":"lo","type":"quantitative","title":null,
       "axis":{"orient":"right","values":[0,5,10,15,20,25,30,40,45,50,55,60,65],"labelPadding":10,"labelAlign":"left","labelOverlap":false,"tickCount":14}},
  "y2":{"field":"hi"}}},
{"data":{"name":"trend"},"mark":{"type":"line","color":"#2f5bff","strokeWidth":1.5},
 "encoding":{
  "x":{"field":"d","type":"temporal","title":null,"scale":{"type":"utc"},
       "axis":{"orient":"bottom","labels":false,"grid":true,"gridColor":"#0c1c58","gridOpacity":0.85,"tickCount":{"interval":"day","step":1}}},
  "y":{"field":"p","type":"quantitative","title":null,
       "axis":{"orient":"right","values":[0,5,10,15,20,25,30,40,45,50,55,60,65],"labelPadding":10,"labelAlign":"left","labelOverlap":false,"tickCount":14}}}},
{"data":{"name":"lastp"},"mark":{"type":"tick","orient":"horizontal","size":22,"thickness":10,"color":"#22ab94","opacity":1},
 "encoding":{
  "x":{"datum":{"year":2025,"month":12,"date":8,"hours":19,"utc":true},"type":"temporal","scale":{"type":"utc"},
       "axis":{"orient":"bottom","labels":false,"grid":true,"gridColor":"#0c1c58","gridOpacity":0.85,"tickCount":{"interval":"day","step":1}}},
  "y":{"field":"p","type":"quantitative","title":null,
       "axis":{"orient":"right","values":[0,5,10,15,20,25,30,40,45,50,55,60,65],"labelPadding":10,"labelAlign":"left","labelOverlap":false,"tickCount":14}}}},
{"data":{"name":"lastp"},"mark":{"type":"text","color":"#ffffff","fontSize":6.5,"font":"Liberation Sans","align":"center","baseline":"middle"},
 "encoding":{
  "x":{"datum":{"year":2025,"month":12,"date":8,"hours":19,"utc":true},"type":"temporal","scale":{"type":"utc"},
       "axis":{"orient":"bottom","labels":false,"grid":true,"gridColor":"#0c1c58","gridOpacity":0.85,"tickCount":{"interval":"day","step":1}}},
  "y":{"field":"p","type":"quantitative","title":null,
       "axis":{"orient":"right","values":[0,5,10,15,20,25,30,40,45,50,55,60,65],"labelPadding":10,"labelAlign":"left","labelOverlap":false,"tickCount":14}},
  "text":{"field":"t"}}},
{"data":{"values":[{}]},"mark":{"type":"text","color":"#d1d4dc","fontSize":6,"font":"Liberation Sans","align":"left","baseline":"middle"},
 "encoding":{
  "x":{"datum":{"year":2024,"month":11,"date":29,"hours":14,"utc":true},"type":"temporal","scale":{"type":"utc"},
       "axis":{"orient":"bottom","labels":false,"grid":true,"gridColor":"#0c1c58","gridOpacity":0.85,"tickCount":{"interval":"day","step":1}}},
  "y":{"datum":64.36,"type":"quantitative",
       "axis":{"orient":"right","values":[0,5,10,15,20,25,30,40,45,50,55,60,65],"labelPadding":10,"labelAlign":"left","labelOverlap":false,"tickCount":14}},
  "text":{"value":"HYPE/USD, 1D, CoinMarketCap"}}},
{"data":{"values":[{}]},"mark":{"type":"text","color":"#22ab94","fontSize":6,"font":"Liberation Sans","align":"left","baseline":"middle","dx":90},
 "encoding":{
  "x":{"datum":{"year":2024,"month":11,"date":29,"hours":14,"utc":true},"type":"temporal","scale":{"type":"utc"},
       "axis":{"orient":"bottom","labels":false,"grid":true,"gridColor":"#0c1c58","gridOpacity":0.85,"tickCount":{"interval":"day","step":1}}},
  "y":{"datum":64.36,"type":"quantitative",
       "axis":{"orient":"right","values":[0,5,10,15,20,25,30,40,45,50,55,60,65],"labelPadding":10,"labelAlign":"left","labelOverlap":false,"tickCount":14}},
  "text":{"value":"O35.59 H35.96 L35.36 C35.58 −0.10 (−0.29%)"}}}
]
},
{
"width":822,"height":55,
"layer":[
{"data":{"name":"ind"},"mark":{"type":"line","color":"#3b7cf6","strokeWidth":1},
 "encoding":{
  "x":{"field":"d","type":"temporal","title":null,"scale":{"type":"utc","domain":[{"year":2024,"month":11,"date":26,"utc":true},{"year":2025,"month":12,"date":2,"utc":true}]},
       "axis":{"orient":"bottom","labels":false,"grid":true,"gridColor":"#0c1c58","gridOpacity":0.85,"tickCount":{"interval":"day","step":1}}},
  "y":{"field":"v","type":"quantitative","title":null,"scale":{"domain":[-5.33,6.89],"nice":false,"zero":false},
       "axis":{"orient":"right","values":[0,4],"labelPadding":10,"labelAlign":"left","labelOverlap":false,"labelExpr":"datum.value == 0 ? '0' : datum.value + 'B'"}}}},
{"data":{"name":"lastv"},"mark":{"type":"tick","orient":"horizontal","size":31,"thickness":10,"color":"#2962ff","opacity":1},
 "encoding":{
  "x":{"datum":{"year":2025,"month":12,"date":10,"hours":10,"utc":true},"type":"temporal","scale":{"type":"utc"}},
  "y":{"field":"v","type":"quantitative","title":null}}},
{"data":{"name":"lastv"},"mark":{"type":"text","color":"#ffffff","fontSize":6.5,"font":"Liberation Sans","align":"center","baseline":"middle"},
 "encoding":{
  "x":{"datum":{"year":2025,"month":12,"date":10,"hours":10,"utc":true},"type":"temporal","scale":{"type":"utc"}},
  "y":{"field":"v","type":"quantitative","title":null},
  "text":{"field":"t"}}},
{"data":{"values":[{}]},"mark":{"type":"text","color":"#d1d4dc","fontSize":6,"font":"Liberation Sans","align":"left","baseline":"middle"},
 "encoding":{
  "x":{"datum":{"year":2024,"month":11,"date":29,"hours":14,"utc":true},"type":"temporal","scale":{"type":"utc"}},
  "y":{"datum":4.3,"type":"quantitative"},
  "text":{"value":"OBV"}}},
{"data":{"values":[{}]},"mark":{"type":"text","color":"#3b7cf6","fontSize":6,"font":"Liberation Sans","align":"left","baseline":"middle","dx":16},
 "encoding":{
  "x":{"datum":{"year":2024,"month":11,"date":29,"hours":14,"utc":true},"type":"temporal","scale":{"type":"utc"}},
  "y":{"datum":4.3,"type":"quantitative"},
  "text":{"value":"−3.607B"}}}
]
},
{
"width":822,"height":53,
"layer":[
{"data":{"name":"ind"},"mark":{"type":"line","color":"#3f8f55","strokeWidth":1},
 "encoding":{
  "x":{"field":"d","type":"temporal","title":null,"scale":{"type":"utc","domain":[{"year":2024,"month":11,"date":26,"utc":true},{"year":2025,"month":12,"date":2,"utc":true}]},
       "axis":{"orient":"bottom","labels":true,"grid":true,"gridColor":"#0c1c58","gridOpacity":0.85,"tickCount":{"interval":"day","step":1},
               "labelOverlap":false,"labelFlush":false,"labelBound":false,"labelPadding":5,"labelAlign":"center",
               "labelExpr":"utcdate(datum.value) == 1 ? (utcmonth(datum.value) == 0 ? utcFormat(datum.value, '%Y') : utcFormat(datum.value, '%b')) : ''"}},
  "y":{"field":"m","type":"quantitative","title":null,"scale":{"domain":[-0.36,1.24],"nice":false,"zero":false},
       "axis":{"orient":"right","values":[0.5,1],"format":".2f","labelPadding":10,"labelAlign":"left","labelOverlap":false}}}},
{"data":{"values":[{}]},"mark":{"type":"rule","color":"#8a8d96","strokeWidth":1,"strokeDash":[2,2]},
 "encoding":{"y":{"datum":0,"type":"quantitative","axis":{"orient":"right","values":[0.5,1],"format":".2f","labelPadding":10,"labelAlign":"left","labelOverlap":false}}}},
{"data":{"name":"lastm"},"mark":{"type":"tick","orient":"horizontal","size":22,"thickness":10,"color":"#43a047","opacity":1},
 "encoding":{
  "x":{"datum":{"year":2025,"month":12,"date":8,"hours":19,"utc":true},"type":"temporal","scale":{"type":"utc"}},
  "y":{"field":"m","type":"quantitative","title":null,"axis":{"orient":"right","values":[0.5,1],"format":".2f","labelPadding":10,"labelAlign":"left","labelOverlap":false}}}},
{"data":{"name":"lastm"},"mark":{"type":"text","color":"#ffffff","fontSize":6.5,"font":"Liberation Sans","align":"center","baseline":"middle"},
 "encoding":{
  "x":{"datum":{"year":2025,"month":12,"date":8,"hours":19,"utc":true},"type":"temporal","scale":{"type":"utc"}},
  "y":{"field":"m","type":"quantitative","title":null,"axis":{"orient":"right","values":[0.5,1],"format":".2f","labelPadding":10,"labelAlign":"left","labelOverlap":false}},
  "text":{"field":"t"}}},
{"data":{"values":[{}]},"mark":{"type":"text","color":"#d1d4dc","fontSize":6,"font":"Liberation Sans","align":"left","baseline":"middle"},
 "encoding":{
  "x":{"datum":{"year":2024,"month":11,"date":29,"hours":14,"utc":true},"type":"temporal","scale":{"type":"utc"}},
  "y":{"datum":0.85,"type":"quantitative","axis":{"orient":"right","values":[0.5,1],"format":".2f","labelPadding":10,"labelAlign":"left","labelOverlap":false}},
  "text":{"value":"CMF (20)"}}},
{"data":{"values":[{}]},"mark":{"type":"text","color":"#43a047","fontSize":6,"font":"Liberation Sans","align":"left","baseline":"middle","dx":29},
 "encoding":{
  "x":{"datum":{"year":2024,"month":11,"date":29,"hours":14,"utc":true},"type":"temporal","scale":{"type":"utc"}},
  "y":{"datum":0.85,"type":"quantitative","axis":{"orient":"right","values":[0.5,1],"format":".2f","labelPadding":10,"labelAlign":"left","labelOverlap":false}},
  "text":{"value":"−0.10"}}}
]
}
]
}
